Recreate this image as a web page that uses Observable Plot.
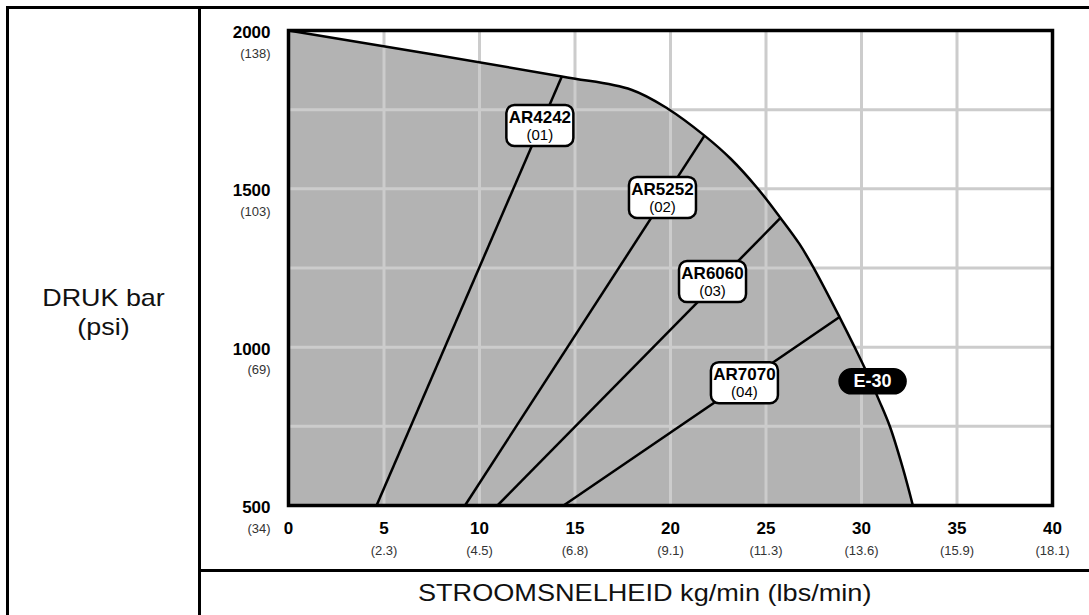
<!DOCTYPE html>
<html>
<head>
<meta charset="utf-8">
<script src="https://cdn.jsdelivr.net/npm/d3@7"></script>
<script src="https://cdn.jsdelivr.net/npm/@observablehq/plot@0.6"></script>
<style>
  html, body { margin: 0; padding: 0; background: #fff; }
  #wrap { position: relative; width: 1089px; height: 615px; overflow: hidden; background: #fff; font-family: "Liberation Sans", Arial, sans-serif; }
  .ln { position: absolute; background: #000; }
  #chart { position: absolute; left: 200px; top: 0; }
  #ylab { position: absolute; left: 9px; width: 189px; top: 283px; text-align: center; font-size: 24px; line-height: 29px; color: #111; transform: scaleX(1.12); }
  #xlab { position: absolute; left: 200px; width: 889px; top: 578px; text-align: center; font-size: 24px; line-height: 29px; color: #111; }
  #xlab span { display: inline-block; transform: scaleX(1.13); }
</style>
</head>
<body>
<div id="wrap">
  <div class="ln" style="left:6px;top:6px;width:1090px;height:3px"></div>
  <div class="ln" style="left:6px;top:6px;width:3px;height:620px"></div>
  <div class="ln" style="left:198px;top:6px;width:3px;height:620px"></div>
  <div class="ln" style="left:198px;top:569px;width:900px;height:3px"></div>
  <div id="ylab">DRUK bar<br>(psi)</div>
  <div id="chart"></div>
  <div id="xlab"><span>STROOMSNELHEID kg/min (lbs/min)</span></div>
</div>
<script>
// ---- data ----
const xTicks = [0, 5, 10, 15, 20, 25, 30, 35, 40];
const xTickSub = ["", "(2.3)", "(4.5)", "(6.8)", "(9.1)", "(11.3)", "(13.6)", "(15.9)", "(18.1)"];
const yTicks = [500, 1000, 1500, 2000];
const yTickSub = ["(34)", "(69)", "(103)", "(138)"];
const gridX = [5, 10, 15, 20, 25, 30, 35];
const gridY = [750, 1000, 1250, 1500, 1750];

// E-30 envelope curve (flow kg/min, pressure psi)
const envFlow = [0, 14.31, 17.95, 19.86, 21.78, 23.15, 24.51, 25.76, 26.75, 27.48, 28.85, 29.64, 30.31, 30.92, 31.5, 32.15, 32.69];
const envPsi  = [2000, 1855, 1813, 1753, 1668, 1595, 1505, 1408, 1326, 1252, 1095, 1000, 916, 832, 747, 621, 500];

// hose lines
const hoseNames = ["AR4242", "AR5252", "AR6060", "AR7070"];
const hoseCodes = ["(01)", "(02)", "(03)", "(04)"];
const hoseTopFlow = [14.31, 21.78, 25.76, 28.85];
const hoseTopPsi = [1855, 1668, 1408, 1095];
const hoseBottomFlow = [4.61, 9.24, 10.94, 14.4];
const hoseBottomPsi = [500, 500, 500, 500];
const hoseLabelFlow = [13.16, 19.58, 22.2, 23.87];
const hoseLabelPsi = [1700, 1473, 1207, 888];

const modelName = ["E-30"];
const modelFlow = [30.58];
const modelPsi = [892];

// ---- build ----
const env = envFlow.map((x, i) => ({x, y: envPsi[i]}));
const hoses = hoseNames.map((n, i) => ({
  name: n, code: hoseCodes[i],
  x1: hoseBottomFlow[i], y1: hoseBottomPsi[i],
  x2: hoseTopFlow[i], y2: hoseTopPsi[i],
  lx: hoseLabelFlow[i], ly: hoseLabelPsi[i]
}));
const model = modelName.map((n, i) => ({name: n, x: modelFlow[i], y: modelPsi[i]}));

function roundRect(w, h, r) {
  return {
    draw(ctx) {
      const x0 = -w / 2, y0 = -h / 2, x1 = w / 2, y1 = h / 2;
      ctx.moveTo(x0 + r, y0);
      ctx.lineTo(x1 - r, y0);
      ctx.arcTo(x1, y0, x1, y0 + r, r);
      ctx.lineTo(x1, y1 - r);
      ctx.arcTo(x1, y1, x1 - r, y1, r);
      ctx.lineTo(x0 + r, y1);
      ctx.arcTo(x0, y1, x0, y1 - r, r);
      ctx.lineTo(x0, y0 + r);
      ctx.arcTo(x0, y0, x0 + r, y0, r);
      ctx.closePath();
    }
  };
}

const font = '"Liberation Sans", Arial, sans-serif';
const curve = "catmull-rom";

const chart = Plot.plot({
  width: 889,
  height: 569,
  marginLeft: 88,
  marginRight: 37,
  marginTop: 30,
  marginBottom: 64,
  x: {domain: [0, 40], axis: null},
  y: {domain: [500, 2000], axis: null},
  style: {fontFamily: font, background: "transparent"},
  marks: [
    Plot.areaY(env, {x: "x", y1: 500, y2: "y", fill: "#b3b3b3", curve}),
    Plot.ruleX(gridX, {y1: 500, y2: 2000, stroke: "#cccccc", strokeWidth: 3}),
    Plot.ruleY(gridY, {x1: 0, x2: 40, stroke: "#cccccc", strokeWidth: 3}),
    Plot.line(env, {x: "x", y: "y", stroke: "#000", strokeWidth: 2.5, curve}),
    Plot.link(hoses, {x1: "x1", y1: "y1", x2: "x2", y2: "y2", stroke: "#000", strokeWidth: 2.5}),
    Plot.frame({stroke: "#000", strokeWidth: 3.5}),
    // hose labels
    Plot.dot(hoses, {x: "lx", y: "ly", symbol: roundRect(67, 41, 8), r: 10, fill: "#fff", stroke: "#000", strokeWidth: 2.5}),
    Plot.text(hoses, {x: "lx", y: "ly", text: "name", dy: -8, fontSize: 17, fontWeight: "bold", fill: "#000", ariaLabel: "cond-name"}),
    Plot.text(hoses, {x: "lx", y: "ly", text: "code", dy: 10, fontSize: 15, fill: "#000", ariaLabel: "cond-code"}),
    // model badge
    Plot.dot(model, {x: "x", y: "y", symbol: roundRect(67, 25, 12.5), r: 10, fill: "#000", stroke: "#000"}),
    Plot.text(model, {x: "x", y: "y", text: "name", fontSize: 18, fontWeight: "bold", fill: "#fff", ariaLabel: "cond-model"}),
    // x tick labels
    Plot.text(xTicks, {x: d => d, frameAnchor: "bottom", dy: 28, text: d => String(d), fontSize: 17, fontWeight: "bold", fill: "#000", ariaLabel: "cond-xtick"}),
    Plot.text(xTicks, {x: d => d, frameAnchor: "bottom", dy: 49, text: (d, i) => xTickSub[i], fontSize: 13, fill: "#333", ariaLabel: "cond-xsub"}),
    // y tick labels
    Plot.text(yTicks, {y: d => d, frameAnchor: "left", dx: -18, dy: 2, textAnchor: "end", text: d => String(d), fontSize: 17, fontWeight: "bold", fill: "#000", ariaLabel: "cond-ytick"}),
    Plot.text(yTicks, {y: d => d, frameAnchor: "left", dx: -18, dy: 23, textAnchor: "end", text: (d, i) => yTickSub[i], fontSize: 13, fill: "#333", ariaLabel: "cond-ysub"})
  ]
});

// horizontal condensing of text glyphs (mimics a condensed typeface)
const squeeze = {"cond-name": 0.78, "cond-code": 0.87, "cond-model": 0.9, "cond-xtick": 0.92, "cond-ytick": 0.92, "cond-xsub": 0.95, "cond-ysub": 0.95};
for (const [label, k] of Object.entries(squeeze)) {
  chart.querySelectorAll(`g[aria-label="${label}"] text`).forEach(t => {
    const tr = t.getAttribute("transform");
    if (tr) {
      t.setAttribute("transform", tr + ` scale(${k},1)`);
    } else {
      const x = +(t.getAttribute("x") || 0), y = +(t.getAttribute("y") || 0);
      t.removeAttribute("x"); t.removeAttribute("y");
      t.setAttribute("transform", `translate(${x},${y}) scale(${k},1)`);
    }
  });
}
document.getElementById("chart").appendChild(chart);
</script>
</body>
</html>
